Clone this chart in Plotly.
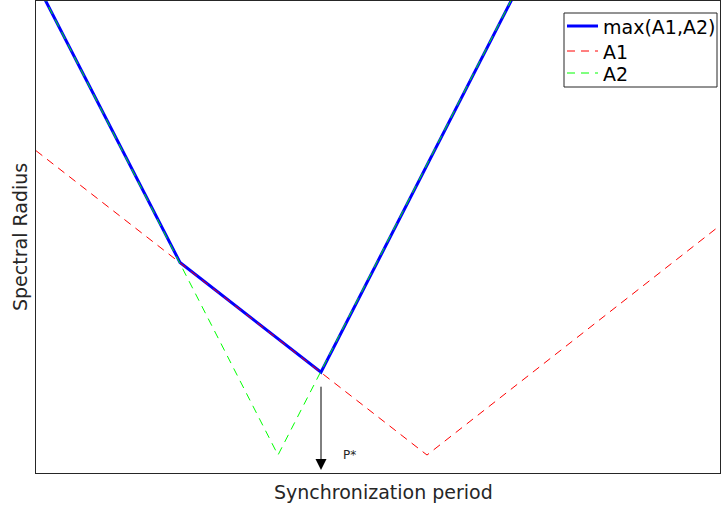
import plotly.graph_objects as go

# Spectral radius of the two iteration matrices vs. synchronization period
a1_x = [0.0, 3.91, 6.84]
a1_y = [3.23, 0.18, 2.48]

a2_x = [0.0, 2.42, 6.84]
a2_y = [4.92, 0.18, 8.82]

# Upper envelope max(A1, A2)
mx_x = [0.0, 1.44, 2.85, 6.84]
mx_y = [4.92, 2.11, 1.01, 8.82]

p_star = 2.85
arrow_top = 0.88
arrow_bottom = 0.03

series_names = ["max(A1,A2)", "A1", "A2"]
series_colors = ["#0000ff", "#ff0000", "#00ff00"]

font = "DejaVu Sans"
ink = "#262626"
W, H = 721, 510
L, R, T, B = 36, 1, 1, 37
pw, ph = W - L - R, H - T - B


def px(xp):
    return (xp - L) / pw


def py(yp):
    return (H - B - yp) / ph


dash = "8px,6px"
fig = go.Figure()
fig.add_trace(go.Scatter(x=mx_x, y=mx_y, mode="lines", name=series_names[0],
                         line=dict(color=series_colors[0], width=3)))
fig.add_trace(go.Scatter(x=a1_x, y=a1_y, mode="lines", name=series_names[1],
                         line=dict(color=series_colors[1], width=1, dash=dash)))
fig.add_trace(go.Scatter(x=a2_x, y=a2_y, mode="lines", name=series_names[2],
                         line=dict(color=series_colors[2], width=1, dash=dash)))

# Arrow marking the optimal period P*
fig.add_annotation(x=p_star, y=arrow_bottom, ax=p_star, ay=arrow_top,
                   xref="x", yref="y", axref="x", ayref="y",
                   text="", showarrow=True, arrowhead=2, arrowsize=2.2,
                   arrowwidth=1, arrowcolor="#000000")
fig.add_annotation(x=p_star + 0.2, y=0.18, xref="x", yref="y", text="P*",
                   showarrow=False, xanchor="left", yanchor="middle",
                   font=dict(family=font, size=12, color=ink))

# Axis titles
fig.add_annotation(x=px(383), y=py(492), xref="paper", yref="paper",
                   text="Synchronization period", showarrow=False,
                   xanchor="center", yanchor="middle",
                   font=dict(family=font, size=19, color=ink))
fig.add_annotation(x=px(20), y=py(237), xref="paper", yref="paper",
                   text="Spectral Radius", showarrow=False, textangle=-90,
                   xanchor="center", yanchor="middle",
                   font=dict(family=font, size=19, color=ink))

# Legend box with line samples
fig.add_shape(type="rect", xref="paper", yref="paper",
              x0=px(564), x1=px(717), y0=py(87), y1=py(13),
              line=dict(color=ink, width=1), fillcolor="white", layer="above")
rows = [26, 51, 73]
widths = [3, 1, 1]
dashes = ["solid", dash, dash]
for name, color, yrow, w, d in zip(series_names, series_colors, rows, widths, dashes):
    fig.add_shape(type="line", xref="paper", yref="paper",
                  x0=px(567), x1=px(598), y0=py(yrow), y1=py(yrow),
                  line=dict(color=color, width=w, dash=d), layer="above")
    fig.add_annotation(x=px(601), y=py(yrow + 1), xref="paper", yref="paper",
                       text=name, showarrow=False, xanchor="left", yanchor="middle",
                       font=dict(family=font, size=19, color="#000000"))

axis = dict(showgrid=False, zeroline=False, showticklabels=False, ticks="",
            showline=True, linecolor=ink, linewidth=1, mirror=True)
fig.update_xaxes(range=[0, 6.84], **axis)
fig.update_yaxes(range=[0, 4.73], **axis)

fig.update_layout(
    width=W, height=H,
    margin=dict(l=L, r=R, t=T, b=B),
    paper_bgcolor="white", plot_bgcolor="white",
    font=dict(family=font, size=19, color=ink),
    showlegend=False,
)

fig.write_html("out.html")
